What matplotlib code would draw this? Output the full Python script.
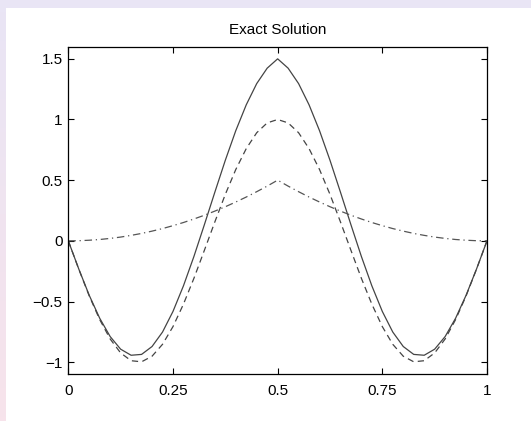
import numpy as np
import matplotlib
matplotlib.use('Agg')
import matplotlib.pyplot as plt
from matplotlib.patches import Rectangle

# values at x = 0, 0.025, ..., 1
x = [i * 0.025 for i in range(41)]

half_solid = [0.0, -0.232, -0.449, -0.638, -0.789, -0.893, -0.943, -0.936,
              -0.871, -0.752, -0.582, -0.371, -0.129, 0.133, 0.401, 0.664,
              0.908, 1.121, 1.296, 1.423, 1.500]
half_dashed = [0.0, -0.233, -0.454, -0.649, -0.809, -0.924, -0.988, -0.997,
               -0.951, -0.853, -0.707, -0.522, -0.309, -0.078, 0.156, 0.383,
               0.588, 0.760, 0.891, 0.972, 1.000]
half_dashdot = [0.0, 0.001, 0.005, 0.011, 0.020, 0.031, 0.045, 0.061,
                0.080, 0.101, 0.125, 0.151, 0.180, 0.211, 0.245, 0.281,
                0.320, 0.361, 0.405, 0.451, 0.500]

# curves are symmetric about x = 0.5
solid = half_solid + half_solid[-2::-1]
dashed = half_dashed + half_dashed[-2::-1]
dashdot = half_dashdot + half_dashdot[-2::-1]

xticks = [0, 0.25, 0.5, 0.75, 1]
xticklabels = ['0', '0.25', '0.5', '0.75', '1']
yticks = [-1, -0.5, 0, 0.5, 1, 1.5]
yticklabels = ['\u22121', '\u22120.5', '0', '0.5', '1', '1.5']

plt.rcParams['font.family'] = ['Liberation Sans', 'DejaVu Sans']

W, H = 531, 421
fig = plt.figure(figsize=(W / 100, H / 100), dpi=100)
fig.patch.set_facecolor('white')

# slide background: lavender top band, gradient left band
fig.add_artist(Rectangle((0, 1 - 8 / H), 1, 8 / H, transform=fig.transFigure,
                         facecolor='#e9e5f5', edgecolor='none', zorder=0))
bg = fig.add_axes([0, 0, 6 / W, 1 - 8 / H], zorder=-1)
top_c = np.array([0xe9, 0xe5, 0xf5]) / 255
bot_c = np.array([0xf7, 0xe3, 0xeb]) / 255
t = np.linspace(0, 1, 100)[:, None]
grad = (top_c * (1 - t) + bot_c * t)[:, None, :]
bg.imshow(grad, aspect='auto', extent=[0, 1, 0, 1])
bg.axis('off')

ax = fig.add_axes([68.3 / W, 1 - 374.3 / H, (487 - 68.3) / W, (374.3 - 46.7) / H])
ax.plot(x, solid, '-', color='#444444', lw=0.9)
ax.plot(x, dashed, color='#444444', lw=0.9, dashes=(5, 3.5))
ax.plot(x, dashdot, color='#555555', lw=0.9, dashes=(6, 3, 1, 3))

ax.set_xlim(0, 1)
ax.set_ylim(-1.1, 1.6)
ax.set_xticks(xticks)
ax.set_xticklabels(xticklabels)
ax.set_yticks(yticks)
ax.set_yticklabels(yticklabels)
ax.tick_params(direction='in', length=4, width=0.8, labelsize=11,
               top=True, right=True, colors='black')
ax.tick_params(axis='x', pad=7)
ax.tick_params(axis='y', pad=4)
for s in ax.spines.values():
    s.set_linewidth(0.9)
ax.set_title('Exact Solution', fontsize=11, pad=9)

fig.savefig('out.png', dpi=100)
